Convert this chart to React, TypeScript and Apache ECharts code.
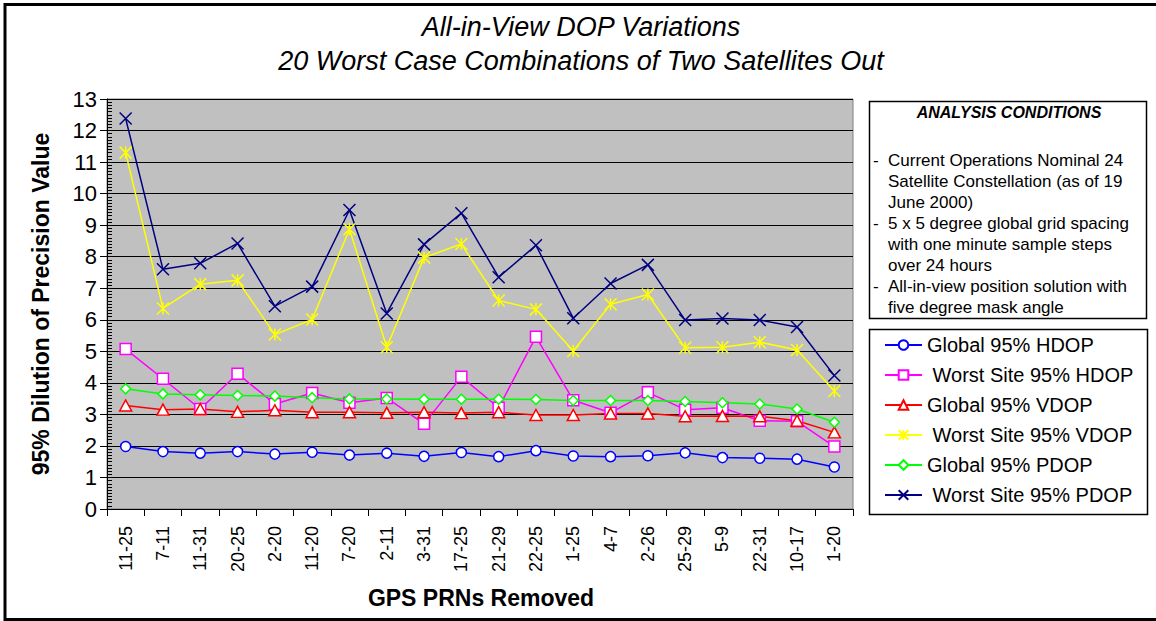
import React, { useEffect, useRef } from "react";
import * as echarts from "echarts";

const FONT = 'Arial, "Liberation Sans", Helvetica, sans-serif';

const categories = ["11-25", "7-11", "11-31", "20-25", "2-20", "11-20", "7-20", "2-11", "3-31", "17-25", "21-29", "22-25", "1-25", "4-7", "2-26", "25-29", "5-9", "22-31", "10-17", "1-20"];

const globalHDOP = [1.98, 1.82, 1.77, 1.82, 1.74, 1.80, 1.71, 1.77, 1.67, 1.79, 1.66, 1.85, 1.68, 1.66, 1.69, 1.78, 1.63, 1.61, 1.58, 1.33];
const worstHDOP = [5.07, 4.13, 3.17, 4.29, 3.33, 3.68, 3.37, 3.52, 2.70, 4.19, 3.21, 5.46, 3.45, 3.05, 3.70, 3.15, 3.21, 2.80, 2.78, 1.98];
const globalVDOP = [3.28, 3.15, 3.17, 3.08, 3.13, 3.07, 3.07, 3.05, 3.07, 3.04, 3.07, 2.98, 2.98, 3.03, 3.03, 2.94, 2.95, 2.94, 2.80, 2.43];
const worstVDOP = [11.30, 6.36, 7.13, 7.25, 5.53, 6.01, 8.87, 5.13, 7.97, 8.40, 6.61, 6.33, 5.01, 6.49, 6.80, 5.11, 5.13, 5.29, 5.04, 3.74];
const globalPDOP = [3.81, 3.65, 3.62, 3.60, 3.58, 3.53, 3.49, 3.49, 3.48, 3.48, 3.48, 3.47, 3.44, 3.44, 3.44, 3.41, 3.37, 3.33, 3.17, 2.75];
const worstPDOP = [12.38, 7.60, 7.79, 8.42, 6.43, 7.05, 9.48, 6.20, 8.39, 9.38, 7.35, 8.36, 6.05, 7.15, 7.74, 5.99, 6.04, 5.99, 5.77, 4.23];

const seriesNames = ["Global 95% HDOP", " Worst Site 95% HDOP", "Global 95% VDOP", " Worst Site 95% VDOP", "Global 95% PDOP", " Worst Site 95% PDOP"];

const titleLines = ["All-in-View DOP Variations", "20 Worst Case Combinations of Two Satellites Out"];
const yAxisTitle = "95% Dilution of Precision Value";
const xAxisTitle = "GPS PRNs Removed";
const conditionsTitle = "ANALYSIS CONDITIONS";
const conditionsLines = [
  ["-", "Current Operations Nominal 24"],
  ["", "Satellite Constellation (as of 19"],
  ["", "June 2000)"],
  ["-", "5 x 5 degree global grid spacing"],
  ["", "with one minute sample steps"],
  ["", "over 24 hours"],
  ["-", "All-in-view position solution with"],
  ["", "five degree mask angle"],
];

const ASTERISK = "path://M0,0L10,10M10,0L0,10M5,0L5,10";
const CROSS = "path://M0,0L10,10M10,0L0,10";

function mkSeries(name: string, data: number[], color: string, symbol: string, size: any, fill: string) {
  return {
    name,
    type: "line",
    data,
    symbol,
    symbolSize: size,
    showSymbol: true,
    lineStyle: { color, width: 1.5 },
    itemStyle: { color: fill, borderColor: color, borderWidth: 1.5 },
    emphasis: { disabled: true },
  };
}

export default function App() {
  const ref = useRef<HTMLDivElement>(null);
  useEffect(() => {
    document.body.style.margin = "0";
    document.body.style.overflow = "hidden";
    if (!ref.current) return;
    const chart = echarts.init(ref.current, undefined, { renderer: "svg" });

    const graphics: any[] = [
      { type: "rect", shape: { x: 5, y: 4.5, width: 1170, height: 615 }, style: { fill: "none", stroke: "#000", lineWidth: 3 } },
      { type: "text", x: 581, y: 27, style: { text: titleLines[0], font: `italic 27px ${FONT}`, fill: "#000", align: "center", verticalAlign: "middle" } },
      { type: "text", x: 581, y: 61, style: { text: titleLines[1], font: `italic 27px ${FONT}`, fill: "#000", align: "center", verticalAlign: "middle" } },
      { type: "text", x: 41, y: 304, rotation: Math.PI / 2, style: { text: yAxisTitle, font: `bold 23px ${FONT}`, fill: "#000", align: "center", verticalAlign: "middle" } },
      { type: "text", x: 481, y: 598, style: { text: xAxisTitle, font: `bold 23px ${FONT}`, fill: "#000", align: "center", verticalAlign: "middle" } },
      { type: "rect", shape: { x: 869.5, y: 101.5, width: 277, height: 217 }, style: { fill: "#fff", stroke: "#000", lineWidth: 1.5 } },
      { type: "text", x: 1009, y: 112, style: { text: conditionsTitle, font: `italic bold 16px ${FONT}`, fill: "#000", align: "center", verticalAlign: "middle" } },
      { type: "rect", shape: { x: 869.5, y: 329.5, width: 278, height: 185 }, style: { fill: "#fff", stroke: "#000", lineWidth: 1.5 } },
    ];
    conditionsLines.forEach((ln, i) => {
      const y = 160 + i * 21;
      if (ln[0]) graphics.push({ type: "text", x: 873, y, style: { text: ln[0], font: `17px ${FONT}`, fill: "#000", align: "left", verticalAlign: "middle" } });
      graphics.push({ type: "text", x: 888, y, style: { text: ln[1], font: `17px ${FONT}`, fill: "#000", align: "left", verticalAlign: "middle" } });
    });

    const option: any = {
      animation: false,
      backgroundColor: "#ffffff",
      textStyle: { fontFamily: FONT },
      grid: { left: 107, top: 99, width: 746, height: 410, show: true, backgroundColor: "#C0C0C0", borderColor: "#808080", borderWidth: 1, containLabel: false },
      xAxis: {
        type: "category",
        data: categories,
        boundaryGap: true,
        axisLine: { lineStyle: { color: "#000", width: 1 } },
        axisTick: { show: true, length: 7, lineStyle: { color: "#000" } },
        axisLabel: { rotate: 90, fontSize: 18, color: "#000", margin: 17, interval: 0, fontFamily: FONT },
        splitLine: { show: false },
      },
      yAxis: [
        {
          type: "value", min: 0, max: 13, interval: 1,
          axisLine: { show: true, lineStyle: { color: "#000", width: 1 } },
          axisTick: { show: true, length: 7, lineStyle: { color: "#000" } },
          axisLabel: { fontSize: 22, color: "#000", margin: 10, fontFamily: FONT },
          splitLine: { show: true, lineStyle: { color: "#000", width: 1 } },
        },
        {
          type: "value", min: 0, max: 13, interval: 1, position: "left",
          axisLine: { show: false },
          axisTick: { show: true, inside: true, length: 6, lineStyle: { color: "#000" } },
          minorTick: { show: true, splitNumber: 10, length: 5, lineStyle: { color: "#000" } },
          axisLabel: { show: false },
          splitLine: { show: false },
        },
      ],
      legend: {
        orient: "vertical",
        left: 884,
        top: 335,
        itemWidth: 37,
        itemHeight: 12,
        itemGap: 10,
        padding: 0,
        selectedMode: false,
        textStyle: { fontSize: 20, color: "#000", fontFamily: FONT },
        data: seriesNames,
      },
      graphic: graphics,
      series: [
        mkSeries(seriesNames[0], globalHDOP, "#0000FF", "circle", 10, "#ffffff"),
        mkSeries(seriesNames[1], worstHDOP, "#FF00FF", "rect", 11, "#ffffff"),
        mkSeries(seriesNames[2], globalVDOP, "#FF0000", "triangle", [12, 11], "#ffffff"),
        mkSeries(seriesNames[3], worstVDOP, "#FFFF00", ASTERISK, 12, "#FFFF00"),
        mkSeries(seriesNames[4], globalPDOP, "#00FF00", "diamond", 10, "#ffffff"),
        mkSeries(seriesNames[5], worstPDOP, "#000080", CROSS, 12, "#000080"),
      ],
    };
    chart.setOption(option);
    return () => chart.dispose();
  }, []);
  return <div ref={ref} style={{ width: 1156, height: 621 }} />;
}
